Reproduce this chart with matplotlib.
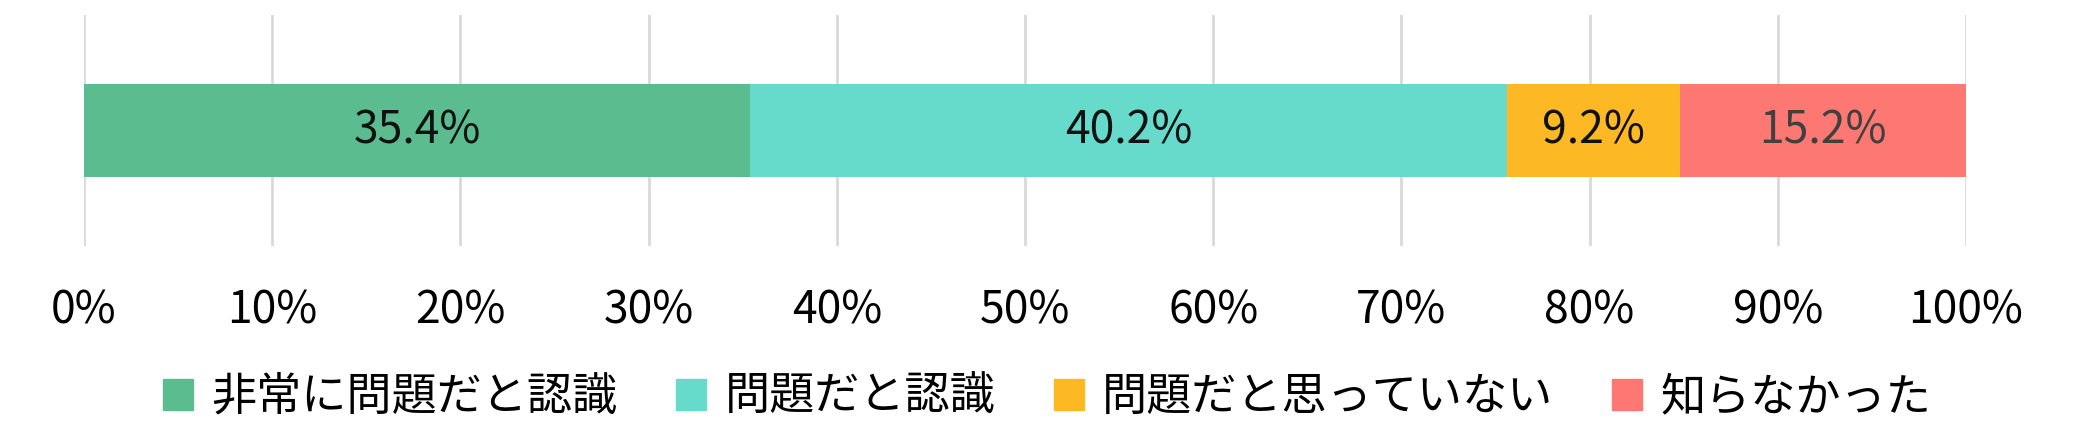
import matplotlib.pyplot as plt
from matplotlib.patches import Patch
from matplotlib.ticker import PercentFormatter

plt.rcParams['font.family'] = ['Noto Sans CJK JP', 'DejaVu Sans']

categories = ['非常に問題だと認識', '問題だと認識', '問題だと思っていない', '知らなかった']
values = [35.4, 40.2, 9.2, 15.2]
colors = ['#5BBD8F', '#66DBCB', '#FDB924', '#FD7873']
label_colors = ['#111111', '#111111', '#111111', '#404040']
ticks = [0, 10, 20, 30, 40, 50, 60, 70, 80, 90, 100]

fig = plt.figure(figsize=(20.76, 4.43), dpi=100)
ax = fig.add_axes([84 / 2076, 1 - 246 / 443, (1966 - 84) / 2076, 231 / 443])

left = 0
for cat, v, c, lc in zip(categories, values, colors, label_colors):
    ax.barh(0, v, left=left, height=0.4, color=c, label=cat, zorder=2)
    ax.text(left + v / 2, 0, f'{v:.1f}%', ha='center', va='center',
            fontsize=32, color=lc, zorder=3)
    left += v

ax.set_xlim(0, 100)
ax.set_ylim(-0.5, 0.5)
ax.set_xticks(ticks)
ax.xaxis.set_major_formatter(PercentFormatter(decimals=0))
ax.set_yticks([])
ax.grid(axis='x', color='#D9D9D9', linewidth=2, zorder=0)
ax.tick_params(axis='x', length=0, labelsize=32, pad=30)
for s in ax.spines.values():
    s.set_visible(False)

handles = [Patch(color=c) for c in colors]
fig.legend(handles, categories, loc='center', bbox_to_anchor=(1047 / 2076, 1 - 397 / 443),
           ncol=4, frameon=False, fontsize=32.5, handlelength=0.67, handleheight=0.67,
           handletextpad=0.4, columnspacing=1.3)

fig.savefig('out.png', dpi=100)
